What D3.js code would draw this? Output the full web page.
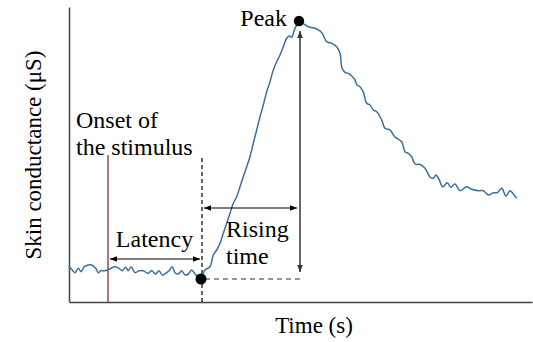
<!DOCTYPE html>
<html>
<head>
<meta charset="utf-8">
<script src="https://cdn.jsdelivr.net/npm/d3@7"></script>
<style>
  html, body { margin: 0; padding: 0; background: #fff; }
  svg { display: block; }
</style>
</head>
<body>
<svg id="chart" width="533" height="342"></svg>
<script>
// ---- data (time in s, skin conductance in µS) ----
const timeS = [0.0,0.27,0.6,0.93,1.2,1.53,1.93,2.27,2.67,2.93,3.2,3.53,3.87,4.2,4.6,5.0,5.33,5.67,5.93,6.2,6.6,7.0,7.43,7.87,8.27,8.67,9.0,9.33,9.67,10.0,10.33,10.6,10.93,11.27,11.6,11.93,12.27,12.6,12.87,13.15,
  13.6,14.1,14.43,14.77,15.1,15.43,15.77,16.1,16.43,16.77,17.1,17.43,17.77,18.1,18.43,18.77,19.1,19.43,19.77,20.1,20.43,20.77,21.1,21.43,21.77,22.03,22.27,22.53,22.77,23.0,
  23.93,24.77,25.27,25.77,26.27,26.77,27.1,27.3,27.6,27.93,28.27,28.6,28.8,29.1,29.43,29.77,30.1,30.43,30.77,31.27,31.6,32.1,32.6,33.27,33.6,33.93,34.27,34.6,35.1,35.6,36.1,36.43,36.7,37.03,37.37,37.83,38.17,38.6,39.1,39.77,40.27,40.93,41.43,41.93,42.43,42.83,43.27,43.7,44.1,44.43,44.77];
const conductance = [0.36,0.327,0.293,0.337,0.303,0.353,0.37,0.37,0.337,0.293,0.313,0.313,0.32,0.337,0.353,0.337,0.313,0.347,0.313,0.353,0.293,0.313,0.313,0.287,0.313,0.28,0.313,0.27,0.287,0.313,0.353,0.293,0.28,0.313,0.27,0.28,0.32,0.28,0.253,0.23,
  0.32,0.353,0.47,0.52,0.587,0.687,0.787,0.887,0.987,1.053,1.153,1.253,1.353,1.453,1.587,1.72,1.853,1.97,2.103,2.203,2.32,2.403,2.47,2.553,2.637,2.66,2.647,2.72,2.77,2.803,
  2.753,2.73,2.695,2.603,2.587,2.553,2.487,2.34,2.297,2.287,2.26,2.22,2.17,2.153,2.10,1.987,1.97,1.92,1.903,1.82,1.737,1.72,1.65,1.603,1.503,1.487,1.453,1.38,1.375,1.337,1.25,1.237,1.27,1.22,1.153,1.193,1.147,1.18,1.113,1.153,1.127,1.113,1.113,1.07,1.093,1.093,1.137,1.06,1.113,1.08,1.037];

// key events
const stimulusTime = 3.9;
const onsetTime = 13.2, onsetValue = 0.23;
const peakTime = 23.0, peakValue = 2.81;

// labels
const xLabel = "Time (s)";
const yLabel = "Skin conductance (μS)";
const stimulusLabel = ["Onset of", "the stimulus"];
const latencyLabel = "Latency";
const risingLabel = ["Rising", "time"];
const peakLabel = "Peak";

// ---- drawing ----
const FONT = "'Liberation Serif', 'Times New Roman', Times, 'DejaVu Serif', serif";
const svg = d3.select("#chart");
const x = d3.scaleLinear().domain([0, 46.3]).range([69, 532]);
const y = d3.scaleLinear().domain([0, 2.95]).range([302, 7]);

const defs = svg.append("defs");
function marker(id, color) {
  defs.append("marker").attr("id", id).attr("viewBox", "0 0 10 10")
    .attr("refX", 10).attr("refY", 5).attr("markerWidth", 7).attr("markerHeight", 7)
    .attr("markerUnits", "userSpaceOnUse").attr("orient", "auto-start-reverse")
    .append("path").attr("d", "M0,1 L10,5 L0,9 Z").attr("fill", color);
}
marker("arrK", "#000");
marker("arrG", "#333");

// axes (no ticks)
svg.append("g").attr("transform", `translate(${x(0)},0)`)
  .call(d3.axisLeft(y).ticks(0).tickSizeOuter(0))
  .call(g => g.select(".domain").attr("stroke", "#444").attr("stroke-width", 1.5));
svg.append("g").attr("transform", `translate(0,${y(0)})`)
  .call(d3.axisBottom(x).ticks(0).tickSizeOuter(0))
  .call(g => g.select(".domain").attr("stroke", "#444").attr("stroke-width", 1.5));

// stimulus line
svg.append("line")
  .attr("x1", x(stimulusTime)).attr("x2", x(stimulusTime))
  .attr("y1", y(0)).attr("y2", y(1.47))
  .attr("stroke", "#9a4848").attr("stroke-width", 1.5);

// onset dashed vertical line
svg.append("line")
  .attr("x1", x(onsetTime) + 1).attr("x2", x(onsetTime) + 1)
  .attr("y1", y(0)).attr("y2", y(1.47))
  .attr("stroke", "#000").attr("stroke-width", 1.2).attr("stroke-dasharray", "4,3");

// horizontal dashed baseline to peak
svg.append("line")
  .attr("x1", x(onsetTime) + 4).attr("x2", x(peakTime) + 1)
  .attr("y1", y(onsetValue)).attr("y2", y(onsetValue))
  .attr("stroke", "#333").attr("stroke-width", 1.2).attr("stroke-dasharray", "5,4");

// signal
const pts = timeS.map((t, i) => [t, conductance[i]]);
svg.append("path").datum(pts)
  .attr("fill", "none").attr("stroke", "#3d6f9c").attr("stroke-width", 1.5)
  .attr("d", d3.line().x(d => x(d[0])).y(d => y(d[1])).curve(d3.curveCatmullRom.alpha(0.5)));

// latency arrow
svg.append("line")
  .attr("x1", x(stimulusTime) + 2).attr("x2", x(onsetTime) - 1)
  .attr("y1", y(0.43)).attr("y2", y(0.43))
  .attr("stroke", "#000").attr("stroke-width", 1.2)
  .attr("marker-start", "url(#arrK)").attr("marker-end", "url(#arrK)");

// rising time arrow
svg.append("line")
  .attr("x1", x(onsetTime) + 3).attr("x2", x(peakTime) - 2)
  .attr("y1", y(0.94)).attr("y2", y(0.94))
  .attr("stroke", "#000").attr("stroke-width", 1.2)
  .attr("marker-start", "url(#arrK)").attr("marker-end", "url(#arrK)");

// amplitude arrow
svg.append("line")
  .attr("x1", x(peakTime) + 1).attr("x2", x(peakTime) + 1)
  .attr("y1", y(0.30)).attr("y2", y(2.71))
  .attr("stroke", "#333").attr("stroke-width", 1.5)
  .attr("marker-start", "url(#arrG)").attr("marker-end", "url(#arrG)");

// dots
svg.append("circle").attr("cx", x(onsetTime)).attr("cy", y(onsetValue)).attr("r", 5.5).attr("fill", "#000");
svg.append("circle").attr("cx", x(peakTime)).attr("cy", y(peakValue)).attr("r", 5.2).attr("fill", "#000");

// texts
const fs = 24;
function label(sel) { return sel.attr("font-family", FONT).attr("fill", "#000"); }
label(svg.append("text")).attr("x", x(peakTime) - 12).attr("y", y(peakValue) + 5)
  .attr("text-anchor", "end").attr("font-size", fs).text(peakLabel);
stimulusLabel.forEach((s, i) => label(svg.append("text")).attr("x", 76).attr("y", 128 + i * 27)
  .attr("font-size", fs).text(s));
label(svg.append("text")).attr("x", (x(stimulusTime) + x(onsetTime)) / 2).attr("y", 247)
  .attr("text-anchor", "middle").attr("font-size", fs).text(latencyLabel);
risingLabel.forEach((s, i) => label(svg.append("text")).attr("x", 226).attr("y", 237 + i * 27)
  .attr("font-size", fs).text(s));
label(svg.append("text")).attr("x", 314).attr("y", 333).attr("text-anchor", "middle")
  .attr("font-size", 23).text(xLabel);
label(svg.append("text")).attr("transform", "translate(41,155) rotate(-90)")
  .attr("text-anchor", "middle").attr("font-size", 23).text(yLabel);
</script>
</body>
</html>
